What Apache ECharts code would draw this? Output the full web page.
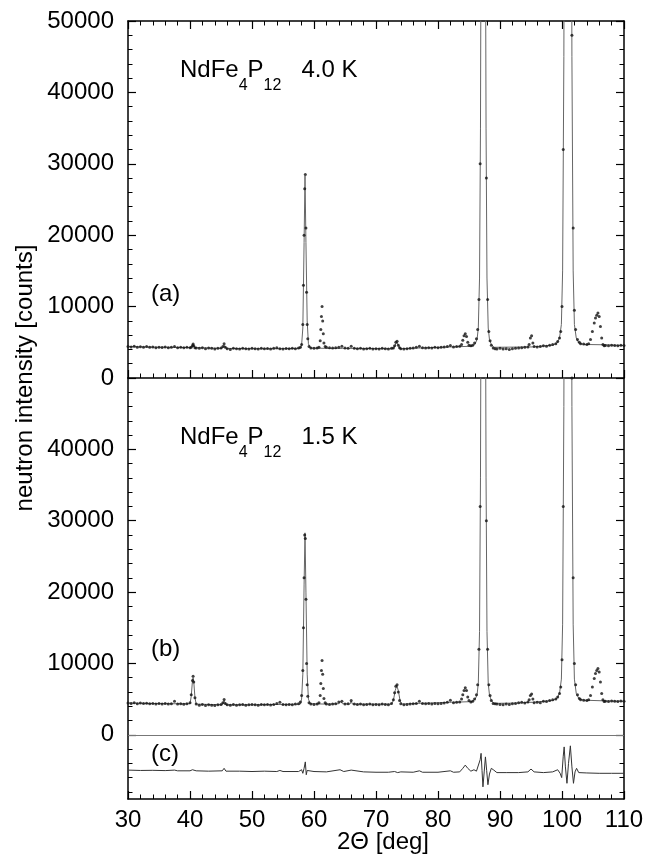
<!DOCTYPE html>
<html>
<head>
<meta charset="utf-8">
<script src="https://cdn.jsdelivr.net/npm/echarts@6/dist/echarts.min.js"></script>
<style>
  html, body { margin: 0; padding: 0; background: #fff; }
  #chart { width: 657px; height: 859px; }
</style>
</head>
<body>
<div id="chart"></div>
<script>
// x range / tick labels
var thetaRange = [30, 110]
var upperRange = [0, 50000]
var lowerRange = [-9000, 50000]
var labelValues = [0, 10000, 20000, 30000, 40000]
var minorValues = [-8000, -6000, -4000, -2000, 0, 2000, 4000, 6000, 8000, 10000, 12000, 14000, 16000, 18000, 20000, 22000, 24000, 26000, 28000, 30000, 32000, 34000, 36000, 38000, 40000, 42000, 44000, 46000, 48000]

// (a) 4.0 K observed points
var obsA = [
  [30, 4400], [30.5, 4350], [31, 4450], [31.5, 4300], [32, 4380], [32.5, 4320], [33, 4400], [33.5, 4300], [34, 4350], [34.5, 4250],
  [35, 4320], [35.5, 4280], [36, 4350], [36.5, 4220], [37, 4300], [37.5, 4400], [38, 4250], [38.5, 4300], [39, 4220], [39.5, 4300],
  [40, 4250], [40.2, 4300], [40.4, 4550], [40.5, 4750], [40.6, 4500], [40.8, 4250], [41, 4200], [41.5, 4150], [42, 4250], [42.5, 4100],
  [43, 4200], [43.5, 4150], [44, 4050], [44.5, 4150], [45, 4200], [45.3, 4400], [45.5, 4800], [45.7, 4300], [46, 4100], [46.5, 4000],
  [47, 4150], [47.5, 4100], [48, 4050], [48.5, 4150], [49, 4100], [49.5, 4050], [50, 4150], [50.5, 4100], [51, 4050], [51.5, 4150],
  [52, 4080], [52.5, 4120], [53, 4050], [53.5, 4150], [54, 4250], [54.5, 4100], [55, 4050], [55.5, 4120], [56, 4080], [56.5, 4150],
  [57, 4100], [57.5, 4200], [57.8, 4300], [58, 4700], [58.2, 7500], [58.3, 13000], [58.4, 20000], [58.5, 26500], [58.6, 28500], [58.7, 21000],
  [58.8, 12000], [58.9, 7500], [59, 5500], [59.2, 4400], [59.5, 4200], [60, 4150], [60.5, 4200], [60.8, 4300], [61, 5200], [61.1, 6800],
  [61.2, 8600], [61.3, 10000], [61.4, 8000], [61.5, 6200], [61.6, 4900], [61.8, 4400], [62, 4300], [62.5, 4250], [63, 4200], [63.5, 4250],
  [64, 4300], [64.5, 4450], [65, 4200], [65.5, 4150], [66, 4450], [66.5, 4150], [67, 4100], [67.5, 4150], [68, 4050], [68.5, 4100],
  [69, 4150], [69.5, 4050], [70, 4100], [70.5, 4050], [71, 4150], [71.5, 4100], [72, 4050], [72.5, 4150], [72.8, 4200], [73, 4500],
  [73.2, 5000], [73.4, 5150], [73.6, 4600], [73.8, 4250], [74, 4100], [74.5, 4050], [75, 4100], [75.5, 4150], [76, 4200], [76.5, 4300],
  [77, 4450], [77.5, 4250], [78, 4200], [78.5, 4250], [79, 4200], [79.5, 4300], [80, 4250], [80.5, 4300], [81, 4350], [81.5, 4400],
  [82, 4550], [82.5, 4350], [83, 4400], [83.5, 4450], [83.8, 4700], [84, 5300], [84.2, 5900], [84.4, 6200], [84.6, 5800], [84.8, 5000],
  [85, 4600], [85.3, 4500], [85.6, 4600], [85.9, 4900], [86.2, 5500], [86.4, 6800], [86.6, 11000], [86.8, 30000], [87, 70000], [87.2, 100000],
  [87.4, 100000], [87.6, 65000], [87.8, 28000], [88, 11000], [88.2, 6500], [88.4, 5200], [88.6, 4600], [88.9, 4200], [89.2, 4100], [89.5, 4050],
  [90, 4150], [90.5, 4050], [91, 4100], [91.5, 4000], [92, 4100], [92.5, 4150], [93, 4200], [93.5, 4250], [94, 4300], [94.5, 4350],
  [94.7, 4700], [94.9, 5600], [95.1, 5900], [95.3, 4900], [95.5, 4400], [96, 4350], [96.5, 4400], [97, 4500], [97.5, 4450], [98, 4600],
  [98.5, 4700], [99, 4800], [99.3, 5100], [99.6, 5600], [99.8, 6500], [100, 10000], [100.2, 32000], [100.4, 80000], [100.6, 150000], [100.8, 150000],
  [101, 150000], [101.2, 150000], [101.4, 90000], [101.6, 48000], [101.8, 21000], [102, 9500], [102.2, 6800], [102.5, 5400], [102.8, 5000], [103, 4800],
  [103.5, 4750], [104, 4700], [104.3, 4800], [104.6, 5400], [104.9, 6500], [105.2, 7700], [105.4, 8400], [105.6, 8800], [105.8, 9100], [106, 8600],
  [106.2, 7200], [106.4, 5600], [106.6, 4700], [106.8, 4500], [107, 4550], [107.5, 4500], [108, 4600], [108.5, 4550], [109, 4500], [109.5, 4600],
  [110, 4550]
]

// (a) 4.0 K calculated profile
var calcA = [
  [30, 4400], [34, 4320], [37, 4300], [40.2, 4260], [40.5, 4600], [40.8, 4250], [45.2, 4150], [45.5, 4600], [45.8, 4150], [50, 4100],
  [54, 4100], [57.8, 4150], [58, 4600], [58.2, 7000], [58.4, 19000], [58.55, 28300], [58.7, 19000], [58.9, 8000], [59.1, 4800], [59.4, 4200],
  [62, 4150], [64.2, 4150], [64.4, 4350], [64.6, 4150], [65.8, 4150], [66, 4400], [66.2, 4150], [72.8, 4100], [73.1, 4600], [73.35, 5100],
  [73.6, 4600], [73.9, 4100], [76.8, 4200], [77, 4400], [77.2, 4200], [81.8, 4350], [82, 4550], [82.2, 4350], [85.5, 4450], [86, 4800],
  [86.3, 5400], [86.5, 7000], [86.7, 14000], [86.85, 35000], [87, 80000], [87.3, 150000], [87.6, 80000], [87.75, 35000], [87.9, 14000], [88.1, 7000],
  [88.3, 5400], [88.6, 4700], [89, 4300], [94.8, 4350], [95, 4550], [95.2, 4350], [98.5, 4600], [99.2, 4900], [99.6, 5600], [99.9, 7500],
  [100.1, 15000], [100.3, 45000], [100.5, 110000], [100.95, 200000], [101.4, 110000], [101.6, 45000], [101.8, 15000], [102, 7500], [102.3, 5600], [102.7, 4900],
  [103.5, 4700], [107, 4650], [110, 4550]
]

// (b) 1.5 K observed points
var obsB = [
  [30, 4450], [30.5, 4400], [31, 4500], [31.5, 4350], [32, 4450], [32.5, 4380], [33, 4420], [33.5, 4350], [34, 4400], [34.5, 4300],
  [35, 4380], [35.5, 4320], [36, 4400], [36.5, 4300], [37, 4350], [37.5, 4700], [38, 4300], [38.5, 4350], [39, 4280], [39.5, 4350],
  [40, 4500], [40.2, 5600], [40.4, 7600], [40.5, 8200], [40.6, 7400], [40.8, 5200], [41, 4300], [41.5, 4150], [42, 4250], [42.5, 4100],
  [43, 4200], [43.5, 4150], [44, 4100], [44.5, 4200], [45, 4250], [45.3, 4500], [45.5, 4950], [45.7, 4400], [46, 4200], [46.5, 4150],
  [47, 4250], [47.5, 4150], [48, 4200], [48.5, 4250], [49, 4150], [49.5, 4200], [50, 4250], [50.5, 4200], [51, 4150], [51.5, 4250],
  [52, 4200], [52.5, 4250], [53, 4180], [53.5, 4250], [54, 4400], [54.5, 4550], [55, 4250], [55.5, 4200], [56, 4250], [56.5, 4200],
  [57, 4300], [57.5, 4350], [57.8, 4600], [58, 5500], [58.2, 9000], [58.3, 15000], [58.4, 22000], [58.5, 28000], [58.6, 27500], [58.7, 19000],
  [58.8, 10000], [58.9, 7000], [59, 5400], [59.2, 4500], [59.5, 4300], [60, 4250], [60.5, 4300], [60.8, 4500], [61, 5500], [61.1, 7200],
  [61.2, 9000], [61.3, 10400], [61.4, 8500], [61.5, 6500], [61.6, 5100], [61.8, 4500], [62, 4300], [62.5, 4250], [63, 4300], [63.5, 4350],
  [64, 4600], [64.5, 4700], [65, 4300], [65.5, 4350], [66, 4800], [66.5, 4300], [67, 4250], [67.5, 4300], [68, 4200], [68.5, 4250],
  [69, 4300], [69.5, 4200], [70, 4250], [70.5, 4200], [71, 4300], [71.5, 4250], [72, 4200], [72.5, 4400], [72.8, 4900], [73, 5900],
  [73.2, 6800], [73.4, 7000], [73.6, 6000], [73.8, 4800], [74, 4350], [74.5, 4200], [75, 4250], [75.5, 4300], [76, 4350], [76.5, 4400],
  [77, 4700], [77.5, 4400], [78, 4350], [78.5, 4400], [79, 4300], [79.5, 4400], [80, 4350], [80.5, 4400], [81, 4450], [81.5, 4550],
  [82, 4850], [82.5, 4500], [83, 4550], [83.5, 4600], [83.8, 5000], [84, 5600], [84.2, 6200], [84.4, 6600], [84.6, 6200], [84.8, 5300],
  [85, 4800], [85.3, 4600], [85.6, 4700], [85.9, 5000], [86.2, 5600], [86.4, 7000], [86.6, 12000], [86.8, 32000], [87, 75000], [87.2, 100000],
  [87.4, 100000], [87.6, 70000], [87.8, 30000], [88, 12000], [88.2, 7000], [88.4, 5500], [88.6, 4800], [88.9, 4400], [89.2, 4350], [89.5, 4300],
  [90, 4250], [90.5, 4200], [91, 4300], [91.5, 4250], [92, 4350], [92.5, 4400], [93, 4500], [93.5, 4550], [94, 4450], [94.5, 4600],
  [94.7, 4900], [94.9, 5500], [95.1, 5700], [95.3, 5000], [95.5, 4500], [96, 4550], [96.5, 4500], [97, 4700], [97.5, 4650], [98, 4800],
  [98.5, 4900], [99, 5000], [99.3, 5300], [99.6, 5800], [99.8, 6700], [100, 10500], [100.2, 32000], [100.4, 80000], [100.6, 150000], [100.8, 150000],
  [101, 150000], [101.2, 150000], [101.4, 90000], [101.6, 50000], [101.8, 22000], [102, 10000], [102.2, 7000], [102.5, 5600], [102.8, 5100], [103, 4900],
  [103.5, 4850], [104, 4800], [104.3, 4900], [104.6, 5500], [104.9, 6700], [105.2, 7900], [105.4, 8600], [105.6, 9000], [105.8, 9300], [106, 8800],
  [106.2, 7400], [106.4, 5800], [106.6, 4900], [106.8, 4650], [107, 4700], [107.5, 4650], [108, 4750], [108.5, 4700], [109, 4650], [109.5, 4750],
  [110, 4700]
]

// (b) 1.5 K calculated profile
var calcB = [
  [30, 4450], [34, 4380], [37.2, 4350], [37.5, 4600], [37.8, 4350], [40, 4350], [40.2, 5400], [40.4, 7600], [40.5, 8000], [40.6, 7500],
  [40.8, 5200], [41, 4300], [45.2, 4200], [45.5, 4800], [45.8, 4200], [50, 4200], [54.2, 4250], [54.5, 4500], [54.8, 4250], [57.8, 4300],
  [58, 5000], [58.2, 8500], [58.4, 21000], [58.55, 28300], [58.7, 20000], [58.9, 8500], [59.1, 5000], [59.4, 4350], [62, 4300], [64, 4350],
  [64.3, 4650], [64.6, 4350], [65.8, 4300], [66, 4700], [66.2, 4300], [72.5, 4300], [72.8, 4800], [73.1, 6200], [73.35, 6900], [73.6, 6200],
  [73.9, 4700], [74.2, 4300], [76.8, 4400], [77, 4650], [77.2, 4400], [81.8, 4550], [82, 4800], [82.2, 4550], [85.5, 4650], [86, 5000],
  [86.3, 5600], [86.5, 7200], [86.7, 14500], [86.85, 36000], [87, 80000], [87.3, 150000], [87.6, 80000], [87.75, 36000], [87.9, 14500], [88.1, 7200],
  [88.3, 5600], [88.6, 4800], [89, 4400], [93, 4450], [94.8, 4550], [95, 4800], [95.2, 4550], [98.5, 4800], [99.2, 5100], [99.6, 5800],
  [99.9, 7800], [100.1, 15500], [100.3, 46000], [100.5, 110000], [100.95, 200000], [101.4, 110000], [101.6, 46000], [101.8, 15500], [102, 7800], [102.3, 5800],
  [102.7, 5100], [103.5, 4850], [107, 4750], [110, 4700]
]

// (c) difference curve, offset to -5000
var diffC = [
  [30, -4950], [32, -5000], [34, -4980], [36, -5020], [37.5, -4950], [38, -5050], [40, -5050], [40.4, -4900], [40.6, -5150], [41, -5050],
  [43, -5100], [45.2, -5050], [45.5, -4700], [45.8, -5100], [48, -5100], [50, -5150], [52, -5100], [54, -5150], [54.5, -5000], [55, -5150],
  [57.5, -5150], [58, -4900], [58.2, -5400], [58.4, -4700], [58.6, -3800], [58.75, -5600], [58.9, -5000], [59.2, -5200], [60, -5150], [62, -5200],
  [64.2, -4900], [64.8, -5150], [66, -4950], [66.3, -5200], [68, -5200], [70, -5250], [72, -5250], [73, -5150], [73.5, -5300], [74, -5200],
  [76, -5250], [77, -5050], [77.5, -5250], [80, -5250], [82, -5050], [82.5, -5250], [83.5, -5200], [84, -4700], [84.4, -4250], [84.8, -4700],
  [85.3, -5100], [85.8, -4900], [86.2, -5100], [86.5, -5000], [86.8, -3500], [86.95, -2600], [87.1, -5000], [87.25, -7300], [87.45, -5200], [87.65, -3100],
  [87.85, -5000], [88.05, -7000], [88.3, -5500], [88.6, -4700], [89, -4950], [89.5, -5300], [91, -5300], [93, -5300], [94.5, -5200], [95, -4800],
  [95.5, -5200], [97, -5300], [98.5, -5200], [99.3, -4900], [99.7, -5400], [99.95, -6000], [100.2, -3000], [100.35, -1700], [100.55, -4500], [100.8, -6800],
  [101.05, -4000], [101.35, -1550], [101.6, -4500], [101.85, -6800], [102.1, -5200], [102.35, -4700], [102.7, -5300], [104, -5350], [106, -5400], [108, -5400],
  [110, -5400]
]

var FONT = 'Liberation Sans, Arial, Helvetica, sans-serif'
var black = '#000'

function plain(v) {
  return String(v)
}

function xAxisDef(grid, pos, labels) {
  return {
    type: 'value', gridIndex: grid, position: pos,
    min: thetaRange[0], max: thetaRange[1], interval: 10,
    axisLine: { show: true, onZero: false, lineStyle: { color: black, width: 1.5 } },
    axisTick: { show: true, inside: true, length: 8, lineStyle: { color: black, width: 1.2 } },
    minorTick: { show: true, splitNumber: 5, length: 4.5, lineStyle: { color: black, width: 1 } },
    axisLabel: { show: labels, color: black, fontSize: 24, fontFamily: FONT, margin: 9, formatter: plain },
    splitLine: { show: false }
  }
}

var subRich = {
  a: { fontSize: 24, fontFamily: FONT, lineHeight: 24, verticalAlign: 'top', fill: black },
  s: { fontSize: 16, fontFamily: FONT, lineHeight: 36, verticalAlign: 'bottom', fill: black }
}

var myChart = echarts.init(document.getElementById('chart'), null, { renderer: 'canvas' })
var option = {
  backgroundColor: '#fff',
  animation: false,
  grid: [
    { left: 128, top: 21, width: 496, height: 357 },
    { left: 128, top: 378, width: 496, height: 421 }
  ],
  xAxis: [
    xAxisDef(0, 'bottom', false),
    xAxisDef(0, 'top', false),
    xAxisDef(1, 'bottom', true)
  ],
  yAxis: [
    // upper panel
    {
      type: 'value', gridIndex: 0, position: 'left',
      min: upperRange[0], max: upperRange[1], interval: 10000,
      axisLine: { show: true, lineStyle: { color: black, width: 1.5 } },
      axisTick: { show: true, inside: true, length: 8, lineStyle: { color: black, width: 1.2 } },
      minorTick: { show: true, splitNumber: 5, length: 4.5, lineStyle: { color: black, width: 1 } },
      axisLabel: { color: black, fontSize: 24, fontFamily: FONT, margin: 14, formatter: plain },
      splitLine: { show: false }
    },
    {
      type: 'value', gridIndex: 0, position: 'right',
      min: upperRange[0], max: upperRange[1], interval: 10000,
      axisLine: { show: true, lineStyle: { color: black, width: 1.5 } },
      axisTick: { show: true, inside: true, length: 8, lineStyle: { color: black, width: 1.2 } },
      minorTick: { show: true, splitNumber: 5, length: 4.5, lineStyle: { color: black, width: 1 } },
      axisLabel: { show: false },
      splitLine: { show: false }
    },
    // lower panel: labels + major ticks
    {
      type: 'value', gridIndex: 1, position: 'left',
      min: lowerRange[0], max: lowerRange[1],
      axisLine: { show: true, lineStyle: { color: black, width: 1.5 } },
      axisTick: { show: true, inside: true, length: 8, customValues: labelValues, lineStyle: { color: black, width: 1.2 } },
      axisLabel: { color: black, fontSize: 24, fontFamily: FONT, margin: 14, customValues: labelValues, formatter: plain },
      splitLine: { show: false }
    },
    {
      type: 'value', gridIndex: 1, position: 'left',
      min: lowerRange[0], max: lowerRange[1],
      axisLine: { show: false },
      axisTick: { show: true, inside: true, length: 4.5, customValues: minorValues, lineStyle: { color: black, width: 1 } },
      axisLabel: { show: false, customValues: minorValues },
      splitLine: { show: false }
    },
    {
      type: 'value', gridIndex: 1, position: 'right',
      min: lowerRange[0], max: lowerRange[1],
      axisLine: { show: true, lineStyle: { color: black, width: 1.5 } },
      axisTick: { show: true, inside: true, length: 8, customValues: labelValues, lineStyle: { color: black, width: 1.2 } },
      axisLabel: { show: false, customValues: labelValues },
      splitLine: { show: false }
    },
    {
      type: 'value', gridIndex: 1, position: 'right',
      min: lowerRange[0], max: lowerRange[1],
      axisLine: { show: false },
      axisTick: { show: true, inside: true, length: 4.5, customValues: minorValues, lineStyle: { color: black, width: 1 } },
      axisLabel: { show: false, customValues: minorValues },
      splitLine: { show: false }
    }
  ],
  series: [
    {
      name: 'calc 4.0K', type: 'line', xAxisIndex: 0, yAxisIndex: 0, data: calcA,
      showSymbol: false, symbol: 'none', clip: true,
      lineStyle: { color: '#666', width: 1 }, z: 2
    },
    {
      name: 'obs 4.0K', type: 'scatter', xAxisIndex: 0, yAxisIndex: 0, data: obsA,
      symbol: 'circle', symbolSize: 3, clip: true,
      itemStyle: { color: '#111' }, z: 3
    },
    {
      name: 'calc 1.5K', type: 'line', xAxisIndex: 2, yAxisIndex: 2, data: calcB,
      showSymbol: false, symbol: 'none', clip: true,
      lineStyle: { color: '#666', width: 1 }, z: 2
    },
    {
      name: 'obs 1.5K', type: 'scatter', xAxisIndex: 2, yAxisIndex: 2, data: obsB,
      symbol: 'circle', symbolSize: 3, clip: true,
      itemStyle: { color: '#111' }, z: 3
    },
    {
      name: 'diff', type: 'line', xAxisIndex: 2, yAxisIndex: 2, data: diffC,
      showSymbol: false, symbol: 'none', clip: true,
      lineStyle: { color: '#333', width: 1 }, z: 3,
      markLine: {
        silent: true, symbol: 'none', label: { show: false },
        lineStyle: { color: '#777', width: 1, type: 'solid' },
        data: [{ yAxis: 0 }]
      }
    }
  ],
  graphic: [
    {
      type: 'text', x: 25, y: 378, rotation: Math.PI / 2,
      style: { text: 'neutron intensity [counts]', font: '24px ' + FONT, fill: black, textAlign: 'center', textVerticalAlign: 'middle' }
    },
    {
      type: 'text', x: 383, y: 842,
      style: { text: '2\u0398 [deg]', font: '24px ' + FONT, fill: black, textAlign: 'center', textVerticalAlign: 'middle' }
    },
    {
      type: 'text', x: 180, y: 58,
      style: { text: '{a|NdFe}{s|4}{a|P}{s|12}{a|   4.0 K}', rich: subRich }
    },
    {
      type: 'text', x: 180, y: 425,
      style: { text: '{a|NdFe}{s|4}{a|P}{s|12}{a|   1.5 K}', rich: subRich }
    },
    {
      type: 'text', x: 151, y: 294,
      style: { text: '(a)', font: '24px ' + FONT, fill: black, textVerticalAlign: 'middle' }
    },
    {
      type: 'text', x: 151, y: 649,
      style: { text: '(b)', font: '24px ' + FONT, fill: black, textVerticalAlign: 'middle' }
    },
    {
      type: 'text', x: 151, y: 754,
      style: { text: '(c)', font: '24px ' + FONT, fill: black, textVerticalAlign: 'middle' }
    }
  ]
}
myChart.setOption(option)
</script>
</body>
</html>
